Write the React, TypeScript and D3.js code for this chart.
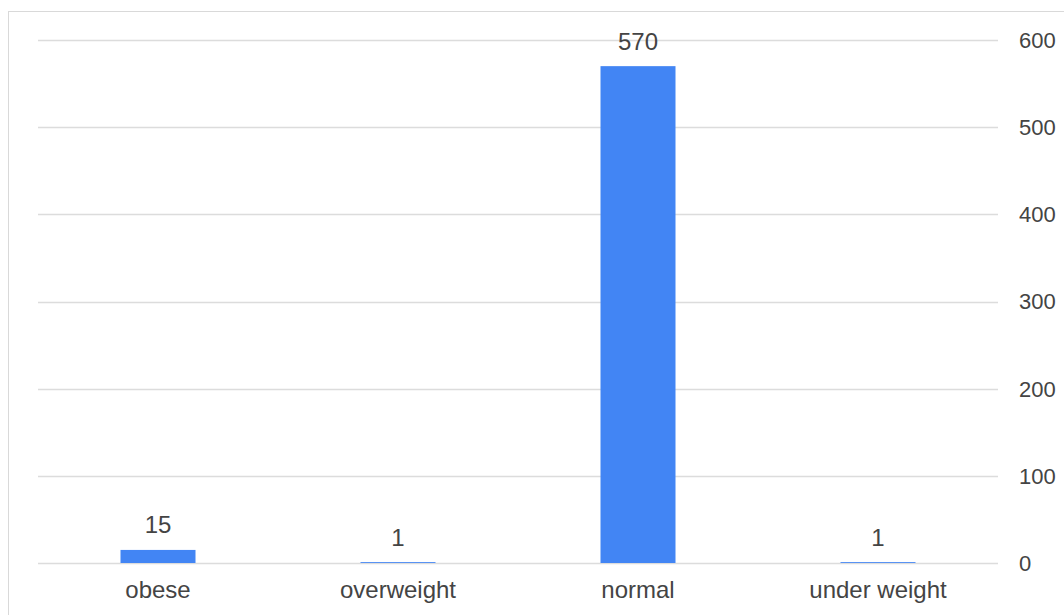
import React from "react";
import * as d3 from "d3";

const categories = ["obese", "overweight", "normal", "under weight"];
const values = [15, 1, 570, 1];
const yTicks = [0, 100, 200, 300, 400, 500, 600];

const W = 1064;
const H = 615;
const left = 38;
const right = 998;
const top = 40;
const bottom = 563;

export default function App() {
  const x = d3.scaleBand<string>().domain(categories).range([left, right]).padding(0);
  const y = d3.scaleLinear().domain([0, 600]).range([bottom, top]);
  const barW = x.bandwidth() * 0.3125;
  const font = "Arial, 'Liberation Sans', sans-serif";
  const textColor = "#444444";

  return (
    <svg
      width={W}
      height={H}
      style={{ position: "absolute", left: 0, top: 0, background: "#fff" }}
    >
      <rect x={8.5} y={11.5} width={1200} height={800} fill="#fff" stroke="#d9d9d9" strokeWidth={1} />
      {yTicks.map((t) => (
        <g key={t}>
          <line
            x1={left}
            x2={right}
            y1={Math.round(y(t)) + 0.5}
            y2={Math.round(y(t)) + 0.5}
            stroke="#dcdcdc"
            strokeWidth={1.5}
          />
          <text
            x={1019}
            y={y(t)}
            dy="0.36em"
            fontFamily={font}
            fontSize={22}
            fill={textColor}
          >
            {t}
          </text>
        </g>
      ))}
      {categories.map((c, i) => {
        const cx = (x(c) as number) + x.bandwidth() / 2;
        const v = values[i];
        return (
          <g key={c}>
            <rect
              x={cx - barW / 2}
              y={y(v)}
              width={barW}
              height={y(0) - y(v)}
              fill="#4285f4"
            />
            <text
              x={cx}
              y={y(v) - 16.5}
              textAnchor="middle"
              fontFamily={font}
              fontSize={24}
              fill={textColor}
            >
              {v}
            </text>
            <text
              x={cx}
              y={598}
              textAnchor="middle"
              fontFamily={font}
              fontSize={24}
              fill={textColor}
            >
              {c}
            </text>
          </g>
        );
      })}
    </svg>
  );
}
